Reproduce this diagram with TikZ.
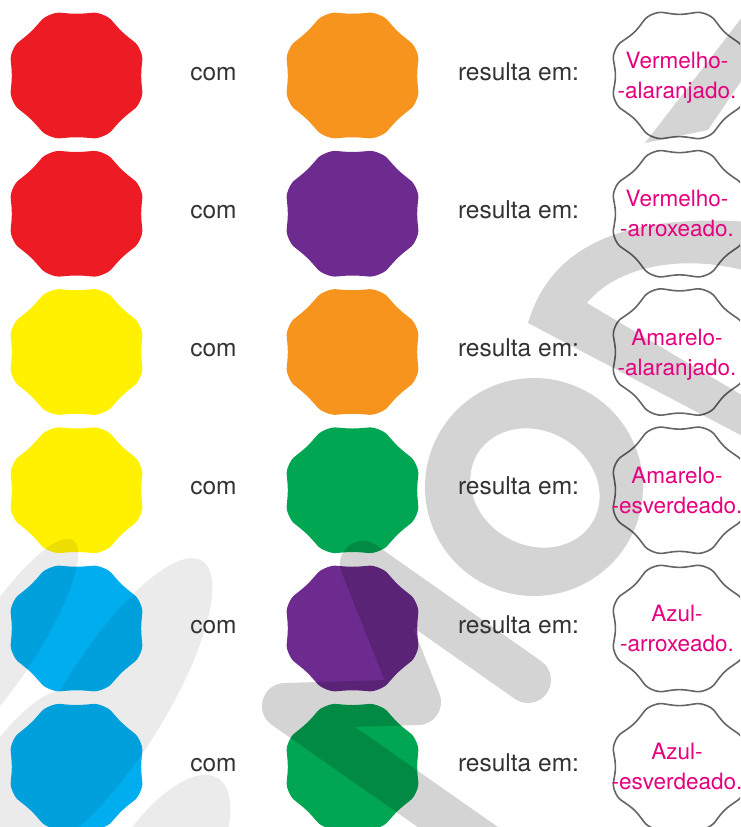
\documentclass[tikz,border=0pt]{standalone}
\usepackage{fontspec}
\setmainfont{TeX Gyre Heros}
\usetikzlibrary{calc}
\definecolor{BlobRed}{RGB}{237, 28, 36}
\definecolor{BlobOrange}{RGB}{247, 148, 29}
\definecolor{BlobPurple}{RGB}{110, 43, 143}
\definecolor{BlobYellow}{RGB}{255, 241, 0}
\definecolor{BlobGreen}{RGB}{0, 166, 81}
\definecolor{BlobCyan}{RGB}{0, 174, 239}
\definecolor{AnswerPink}{RGB}{230, 0, 126}
\definecolor{TextGray}{RGB}{51, 51, 51}
\definecolor{RimGray}{RGB}{100, 101, 104}
\tikzset{
  declare function={blobr(\t,\w)=min(1/cos(mod(\t+22.5,45)-22.5),1.04)*(1-\w*cos(8*\t));},
  blob/.pic={
    \path[pic actions] plot[smooth cycle, variable=\t, domain=0:357, samples=120]
      ({65.5*blobr(\t,#1)*cos(\t)}, {62.5*blobr(\t,#1)*sin(\t)});
  }
}

\begin{document}
\begin{tikzpicture}[
    x=1pt, y=-1pt,
    rim/.style={draw=RimGray, line width=1.6pt},
    com/.style={anchor=base, inner sep=0pt, text=TextGray, font=\fontsize{24.5}{29}\selectfont},
    answer/.style={anchor=north, inner sep=0pt, align=center, text=AnswerPink, font=\fontsize{22.5}{30}\selectfont},
    mark dark/.style={transparency group, opacity=0.17},
    mark light/.style={transparency group, opacity=0.08}
  ]
    \useasboundingbox (0,0) rectangle (740,827);
    \clip (0,0) rectangle (740,827);

    % Colour blobs and empty blobs
    \foreach \i/\y/\a/\b in {1/75.5/BlobRed/BlobOrange, 2/213.75/BlobRed/BlobPurple,
        3/352/BlobYellow/BlobOrange, 4/490.25/BlobYellow/BlobGreen,
        5/628.5/BlobCyan/BlobPurple, 6/766.75/BlobCyan/BlobGreen} {
      \pic[fill=\a] (first\i) at (76.5,\y) {blob=0.012};
      \pic[fill=\b] (second\i) at (352.5,\y) {blob=0.012};
      \pic[rim] (mix\i) at (679.5,\y) {blob=0.022};
    }

    % Watermark, light strokes
    \begin{scope}[mark light]
      \fill[rotate around={58:(112,705)}] (112,705) ellipse[x radius=170, y radius=52];
      \fill[rotate around={57:(5,645)}] (5,645) ellipse[x radius=125, y radius=32];
      \fill[rotate around={58:(12,786)}] (12,786) ellipse[x radius=110, y radius=38];
      \fill[rotate around={58:(158,874)}] (158,874) ellipse[x radius=113, y radius=48];
    \end{scope}

    % Watermark, dark letters
    \begin{scope}[mark dark]
      \draw[line width=46pt, line cap=round, line join=round]
        (528,680) -- (363,564) -- (418,702) -- (285,706) -- (485,846);
      \fill[even odd rule] (534,487) circle[radius=109]
        {[rotate around={-30:(535,488)}] (535,488) ellipse[x radius=67, y radius=57]};
      \fill (528,323) .. controls (548,255) and (610,212) .. (750,222) -- (750,272)
        .. controls (680,252) and (615,268) .. (587,303) -- (750,400) -- (750,440) -- cycle;
      \fill (645,143) -- (708,130) -- (750,68) -- (750,7) -- cycle;
    \end{scope}

    % Labels
    \foreach \i/\y/\wa/\wb in {1/75.5/Vermelho-/-alaranjado., 2/213.75/Vermelho-/-arroxeado.,
        3/352/Amarelo-/-alaranjado., 4/490.25/Amarelo-/-esverdeado.,
        5/628.5/Azul-/-arroxeado., 6/766.75/Azul-/-esverdeado.} {
      \node[com] (with\i) at (213.5,\y+4.5) {com};
      \node[com] (gives\i) at (518.5,\y+4.5) {resulta em:};
      \node[answer] (name\i) at (677,\y-23.5) {\wa\\\wb};
    }
  \end{tikzpicture}
\end{document}
